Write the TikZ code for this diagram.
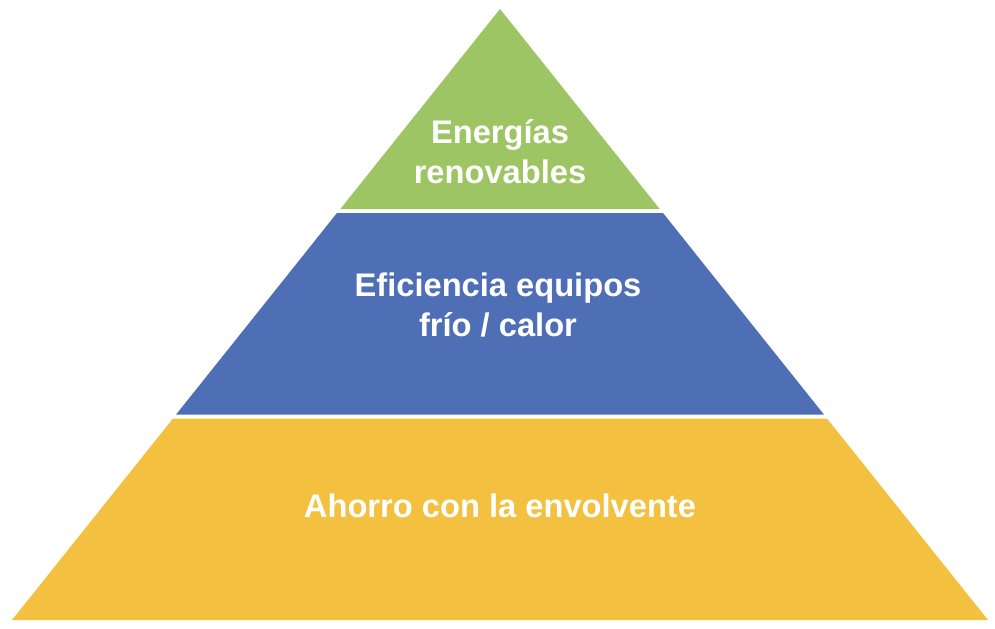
\documentclass[tikz,border=0pt]{standalone}
\usepackage{fontspec}
\setmainfont{Liberation Sans}
\usepackage{tikz}
\definecolor{topgreen}{RGB}{157,197,99}
\definecolor{midblue}{RGB}{78,110,181}
\definecolor{basegold}{RGB}{243,193,63}
\tikzset{
  band/.style={draw=none},
  bandtext/.style={text=white, align=center, anchor=base, font=\bfseries\fontsize{24.5}{29.6}\selectfont}
}
\begin{document}
\begin{tikzpicture}[x=0.75pt, y=-0.75pt]
			%%%%% START %%%%%
			\useasboundingbox (0, 0) rectangle (995, 628);
			
			\draw[band, fill=topgreen] (500, 9) -- (659.7, 209) -- (340.3, 209) -- cycle;
			\draw[band, fill=midblue] (337, 213) -- (663, 213) -- (823.9, 414.5) -- (176.1, 414.5) -- cycle;
			\draw[band, fill=basegold] (173, 418.5) -- (827, 418.5) -- (988, 620) -- (12, 620) -- cycle;
			
			\node[bandtext] (renov) at (500, 183) {Energías\\renovables};
			\node[bandtext] (equip) at (498, 336) {Eficiencia equipos\\frío / calor};
			\node[bandtext] (envol) at (500, 517) {Ahorro con la envolvente};
			
			%%%%% END %%%%%
\end{tikzpicture}
\end{document}
